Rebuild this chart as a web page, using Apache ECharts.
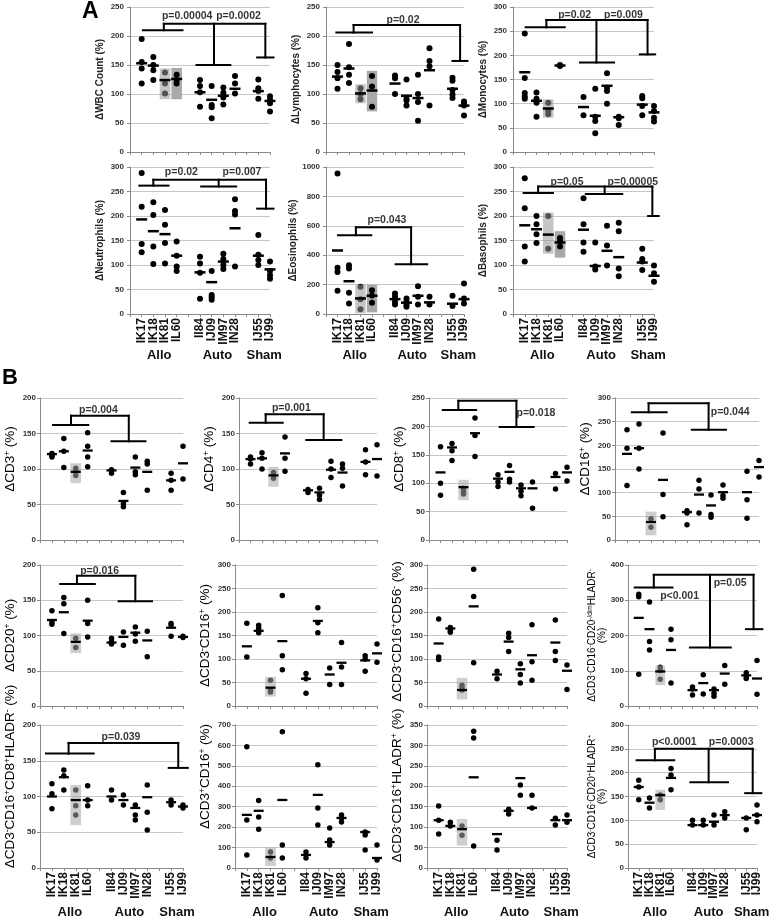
<!DOCTYPE html>
<html><head><meta charset="utf-8">
<script src="https://cdn.jsdelivr.net/npm/echarts@6/dist/echarts.min.js"></script>
<style>html,body{margin:0;padding:0;background:#fff}#c{width:779px;height:922px}</style>
</head><body><div id="c"></div>
<script>
// ---------- categories ----------
const categories = ['', 'IK17', 'IK18', 'IK81', 'IL60', '', 'II84', 'IJ09', 'IM97', 'IN28', '', 'IJ55', 'IJ99'];
const animals = ['IK17', 'IK18', 'IK81', 'IL60', 'II84', 'IJ09', 'IM97', 'IN28', 'IJ55', 'IJ99'];
const groupNames = ['Allo', 'Auto', 'Sham'];
const groupMembers = [['IK17', 'IK18', 'IK81', 'IL60'], ['II84', 'IJ09', 'IM97', 'IN28'], ['IJ55', 'IJ99']];

// ---------- Panel A ----------
const wbcDots = [[195,155,144,118],[164,150,141,124],[137,118,101],[133,124,118],[124,114,103,78],[114,81,77,58],[111,102,94,82],[131,118,101],[125,110,105,92],[96,90,84,70]];
const wbcMeans = [153,149,124,126,103,90,97,109,105,88];
const wbcLight = [['IK81', 91, 144]];
const wbcDark = [['IL60', 91, 145]];
const wbcBrackets = [[1.1,4.5,210,2.9],[5.7,8.6,150,7.2],[10.9,12.3,163,11.6]];
const wbcTop = 221;
const wbcP = [[4.9,234,'p=0.00004'],[9.3,234,'p=0.0002']];

const lymDots = [[150,138,127,109],[186,146,133,119],[110,100,91],[131,113,78],[132,127,100],[125,92,89,80],[133,100,86,54],[179,157,148,80],[128,123,107,99,93],[87,83,80,63]];
const lymMeans = [130,144,101,106,118,97,93,141,109,80];
const lymLight = [['IK81', 84, 117]];
const lymDark = [['IL60', 70, 140]];
const lymBrackets = [[0.9,4.0,206,2.4],[11.0,12.3,157,11.66]];
const lymTop = 219;
const lymP = [[6.7,228,'p=0.02']];

const monDots = [[245,153,122,115,110],[123,110,102,73],[102,85,78],[180,178],[114,76],[131,73,64,39],[163,133,126,100],[73,70,56],[116,111,95,76],[95,85,71,63]];
const monMeans = [165,106,90,179,93,75,137,72,98,82];
const monLight = [['IK81', 71, 109]];
const monDark = [];
const monBrackets = [[1.08,4.4,258,2.84],[5.7,8.6,185,7.1],[10.8,12.1,202,11.45]];
const monTop = 273;
const monP = [[5.25,284,'p=0.02'],[9.4,284,'p=0.009']];

const neuDots = [[288,219,143,126],[228,202,138,102],[212,182,145,103],[148,119,97,88],[117,103,84,31],[88,39,34,29],[123,112,100,92],[234,210,203,97],[161,121,110,100],[107,88,79,72]];
const neuMeans = [193,169,163,119,85,65,107,175,119,91];
const neuLight = [];
const neuDark = [];
const neuBrackets = [[0.8,3.3,262,2.0],[6.1,9.1,260,7.6],[10.9,12.3,215,11.66]];
const neuTop = 274;
const neuP = [[4.4,290,'p=0.02'],[9.6,290,'p=0.007']];

const eosDots = [[955,315,286,158],[331,309,144,72],[185,101,32],[162,126,77],[140,117,83,65],[106,83,61,50],[189,117,65],[117,65],[124,54],[207,106,72]];
const eosMeans = [432,223,106,124,101,77,124,79,70,101];
const eosLight = [['IK81', 5, 200]];
const eosDark = [['IL60', 11, 200]];
const eosBrackets = [[1.04,3.94,536,2.6],[6.05,8.8,338,7.4]];
const eosTop = 590;
const eosP = [[5.3,640,'p=0.043']];

const basDots = [[277,216,138,107],[200,183,163,145],[200,133],[155,149,138],[236,183,146,127],[146,97,91],[180,140,99],[186,169,93,77],[133,112,107,90],[99,83,66]];
const basMeans = [181,173,162,146,172,98,129,116,105,78];
const basLight = [['IK81', 123, 207]];
const basDark = [['IL60', 115, 169]];
const basBrackets = [[0.9,3.4,247,2.14],[6.2,9.3,245,7.8],[11.5,12.4,200,11.86]];
const basTop = 260;
const basP = [[4.6,270,'p=0.05'],[10.2,270,'p=0.00005']];

// ---------- Panel B ----------
const cd3Dots = [[122,119,117],[143,125,102],[101,96,91],[151,132,117,103],[99,94],[67,51,47],[117,96,92],[111,107,70],[94,84,70],[132,86]];
const cd3Means = [121,125,96,126,98,55,102,96,84,108];
const cd3Light = [['IK81', 80, 108]];
const cd3Brackets = [[1.1,4.05,162,2.6],[6.0,8.85,139,7.45]];
const cd3Top = 175;
const cd3P = [[4.9,183,'p=0.004']];

const cd4Dots = [[117,114,107],[123,115,100],[95,90,87],[145,115,97],[71,67],[73,63,57],[111,100,88],[107,101,76],[127,110,92],[134,90]];
const cd4Means = [114,115,91,122,70,67,99,95,110,114];
const cd4Light = [['IK81', 75, 103]];
const cd4Brackets = [[0.93,3.8,165,2.32],[5.85,8.9,141,7.36]];
const cd4Top = 177;
const cd4P = [[4.55,186,'p=0.001']];

const cd8Dots = [[164,100,79],[170,157,140],[91,86,81],[215,184,147],[115,102,94],[131,107,102],[97,86,78],[102,56],[117,90],[128,104]];
const cd8Means = [119,163,93,188,108,120,91,91,111,119];
const cd8Light = [['IK81', 70, 106]];
const cd8Brackets = [[1.2,4.1,229,2.55],[6.15,9.1,199,7.6]];
const cd8Top = 245;
const cd8P = [[9.3,224,'p=0.018']];

const cd16Dots = [[233,194,115],[245,194,150],[45,27],[226,96,49],[62,57,32],[126,108,57],[95,54,48],[116,94,88],[145,85,46],[168,133]];
const cd16Means = [182,194,38,127,59,96,73,101,101,154];
const cd16Light = [['IK81', 10, 60]];
const cd16Brackets = [[1.4,4.3,270,2.8],[6.4,9.25,233,7.8]];
const cd16Top = 289;
const cd16P = [[9.6,270,'p=0.044']];

const cd20Dots = [[135,119,116],[154,145,103],[96,83],[150,117,98],[96,91,88],[105,86],[112,102,92],[106,70],[117,115,99],[99,97]];
const cd20Means = [122,133,91,121,90,98,104,93,111,98];
const cd20Light = [['IK81', 75, 103]];
const cd20Brackets = [[1.7,4.6,173,3.1],[6.6,9.4,148.6,8.0]];
const cd20Top = 184.6;
const cd20P = [[5.0,192,'p=0.016']];

const nkDots = [[176,104],[172,165,156],[55,34,30],[235,107,77],[69,58,27],[209,177,156],[81,46],[135,83,46],[107,100,74],[132,93]];
const nkMeans = [127,160,39,138,58,181,67,92,97,112];
const nkLight = [['IK81', 20, 62]];

const cd56Dots = [[185,104,99],[167,160,157],[44,39,34],[291,233,92],[74,58],[155,146,116],[90,67,49],[173,94,55],[183,116,97],[87,35]];
const cd56Means = [133,165,34,212,67,137,78,108,135,75];
const cd56Light = [['IK81', 14, 60]];

const dimDots = [[317,310,90],[295,183,159],[110,101,76],[218,188,65],[54,48,31],[89,34],[48,36,28],[115,62],[94,85,78],[129,33]];
const dimMeans = [250,218,98,159,45,65,45,92,87,78];
const dimLight = [['IK81', 59, 115]];
const dimBrackets = [[0.62,4.14,336,2.4],[5.76,9.56,166,7.63],[10.97,12.5,218,11.68]];
const dimTop = 372;
const dimP = [[4.8,313,'p<0.001'],[9.5,348,'p=0.05']];

const cd8hDots = [[118,104,83],[137,129,109],[109,87,74],[115,95,87],[109,95],[102,88],[88,74,67],[116,78,53],[95,88],[88,84]];
const cd8hMeans = [100,127,95,95,100,95,84,99,92,86];
const cd8hLight = [['IK81', 60, 116]];
const cd8hBrackets = [[0.5,4.5,160,2.4],[10.8,12.4,140,11.6]];
const cd8hTop = 175;
const cd8hP = [[6.8,183,'p=0.039']];

const tnkDots = [[593,235,64],[330,250,190],[78,49],[667,113,49],[78,49],[505,294,210],[196,137,113],[260,245,225],[176,162,88],[113,39]];
const tnkMeans = [260,280,54,333,64,358,127,245,176,49];
const tnkLight = [['IK81', 10, 100]];

const hlaDots = [[152,117,83],[112,103],[103,80],[335,318,54],[68,44],[144,132],[203,178],[178,147],[122,105],[130,112]];
const hlaMeans = [117,103,95,222,83,140,220,147,117,117];
const hlaLight = [['IK81', 55, 120]];

const bhlaDots = [[184,170,143],[147,126],[153,143],[209,195,164],[100,90],[100,90],[111,90],[118,105],[105,80],[132,111,97]];
const bhlaMeans = [170,137,153,189,90,90,97,111,105,111];
const bhlaLight = [['IK81', 122, 164]];
const bhlaBrackets = [[0.8,4.3,226,2.5],[5.8,9.3,180,7.5],[10.9,12.4,157,11.6]];
const bhlaTop = 250;
const bhlaP = [[4.3,265,'p<0.0001'],[9.6,265,'p=0.0003']];

// ---------- layout ----------
const FONT = '"Liberation Sans", Arial, sans-serif';
const AX = '#8a8a8a', GRIDC = '#c6c6c6';
const panels = [
  {dots:wbcDots, means:wbcMeans, light:wbcLight, dark:wbcDark, br:wbcBrackets, top:wbcTop, p:wbcP, rect:[130,7,140,145], ymax:250, step:50, name:'ΔWBC Count (%)', kind:'A', xlab:false, shift:0},
  {dots:lymDots, means:lymMeans, light:lymLight, dark:lymDark, br:lymBrackets, top:lymTop, p:lymP, rect:[326,7,138,145], ymax:250, step:50, name:'ΔLymphocytes (%)', kind:'A', xlab:false, shift:0},
  {dots:monDots, means:monMeans, light:monLight, dark:monDark, br:monBrackets, top:monTop, p:monP, rect:[513,7,141,145], ymax:300, step:50, name:'ΔMonocytes (%)', kind:'A', xlab:false, shift:0},
  {dots:neuDots, means:neuMeans, light:neuLight, dark:neuDark, br:neuBrackets, top:neuTop, p:neuP, rect:[130,167,140,147], ymax:300, step:50, name:'ΔNeutrophils (%)', kind:'A', xlab:true, shift:0},
  {dots:eosDots, means:eosMeans, light:eosLight, dark:eosDark, br:eosBrackets, top:eosTop, p:eosP, rect:[326,167,138,147], ymax:1000, step:200, name:'ΔEosinophils (%)', kind:'A', xlab:true, shift:0},
  {dots:basDots, means:basMeans, light:basLight, dark:basDark, br:basBrackets, top:basTop, p:basP, rect:[513,167,141,147], ymax:300, step:50, name:'ΔBasophils (%)', kind:'A', xlab:true, shift:0},

  {dots:cd3Dots, means:cd3Means, light:cd3Light, dark:[], br:cd3Brackets, top:cd3Top, p:cd3P, rect:[40,398,143,142], ymax:200, step:50, name:'ΔCD3{s|+} (%)', kind:'B', xlab:false, shift:20},
  {dots:cd4Dots, means:cd4Means, light:cd4Light, dark:[], br:cd4Brackets, top:cd4Top, p:cd4P, rect:[239,398,138,142], ymax:200, step:50, name:'ΔCD4{s|+} (%)', kind:'B', xlab:false, shift:20},
  {dots:cd8Dots, means:cd8Means, light:cd8Light, dark:[], br:cd8Brackets, top:cd8Top, p:cd8P, rect:[429,398,138,142], ymax:250, step:50, name:'ΔCD8{s|+} (%)', kind:'B', xlab:false, shift:20},
  {dots:cd16Dots, means:cd16Means, light:cd16Light, dark:[], br:cd16Brackets, top:cd16Top, p:cd16P, rect:[615,398,144,142], ymax:300, step:50, name:'ΔCD16{s|+} (%)', kind:'B', xlab:false, shift:20},

  {dots:cd20Dots, means:cd20Means, light:cd20Light, dark:[], br:cd20Brackets, top:cd20Top, p:cd20P, rect:[40,565,143,141], ymax:200, step:50, name:'ΔCD20{s|+} (%)', kind:'B', xlab:false, shift:0},
  {dots:nkDots, means:nkMeans, light:nkLight, dark:[], br:[], top:null, p:[], rect:[235,565,142,141], ymax:300, step:50, name:'ΔCD3{s|-}CD16{s|+} (%)', kind:'B', xlab:false, shift:0},
  {dots:cd56Dots, means:cd56Means, light:cd56Light, dark:[], br:[], top:null, p:[], rect:[427,565,140,141], ymax:300, step:50, name:'ΔCD3{s|-}CD16{s|+}CD56{s|-} (%)', kind:'B', xlab:false, shift:8},
  {dots:dimDots, means:dimMeans, light:dimLight, dark:[], br:dimBrackets, top:dimTop, p:dimP, rect:[628,565,129,141], ymax:400, step:100, name:'ΔCD3{t|-}CD16{t|-}CD20{t|-/dim}HLADR{t|-}\n(%)', kind:'B2', xlab:false, shift:0},

  {dots:cd8hDots, means:cd8hMeans, light:cd8hLight, dark:[], br:cd8hBrackets, top:cd8hTop, p:cd8hP, rect:[40,725,143,143], ymax:200, step:50, name:'ΔCD3{s|-}CD16{s|+}CD8{s|+}HLADR{s|-} (%)', kind:'B', xlab:true, shift:40},
  {dots:tnkDots, means:tnkMeans, light:tnkLight, dark:[], br:[], top:null, p:[], rect:[235,725,142,143], ymax:700, step:100, name:'ΔCD3{s|+}CD16{s|+} (%)', kind:'B', xlab:true, shift:40},
  {dots:hlaDots, means:hlaMeans, light:hlaLight, dark:[], br:[], top:null, p:[], rect:[427,725,140,143], ymax:350, step:50, name:'ΔCD3{s|-}CD16{s|+}HLADR{s|+} (%)', kind:'B', xlab:true, shift:22},
  {dots:bhlaDots, means:bhlaMeans, light:bhlaLight, dark:[], br:bhlaBrackets, top:bhlaTop, p:bhlaP, rect:[628,725,129,143], ymax:300, step:50, name:'ΔCD3{t|-}CD16{t|-}CD20{t|+}HLADR{t|+}\n(%)', kind:'B2', xlab:true, shift:0}
];

const slot = name => categories.indexOf(name);
const groupCenters = groupMembers.map(m => m.reduce((a, n) => a + slot(n), 0) / m.length);
function groupLabelAt(v) {
  for (let i = 0; i < groupCenters.length; i++) if (Math.abs(groupCenters[i] - v) < 1e-6) return groupNames[i];
  return '';
}

function boxRender(fill) {
  return function (params, api) {
    const x = api.value(0), lo = api.value(1), hi = api.value(2);
    const a = api.coord([x - 0.45, hi]), b = api.coord([x + 0.45, lo]);
    return {type: 'rect', shape: {x: a[0], y: a[1], width: b[0] - a[0], height: b[1] - a[1]}, style: {fill: fill}};
  };
}
function segRender(params, api) {
  const a = api.coord([api.value(0), api.value(1)]), b = api.coord([api.value(2), api.value(3)]);
  return {type: 'line', shape: {x1: a[0], y1: a[1], x2: b[0], y2: b[1]}, style: {stroke: '#000', lineWidth: 2, lineCap: 'square'}};
}

const grids = [], xAxes = [], yAxes = [], series = [];
panels.forEach((p, i) => {
  const isA = p.kind === 'A';
  grids.push({left: p.rect[0], top: p.rect[1], width: p.rect[2], height: p.rect[3], outerBoundsMode: 'none', containLabel: false});
  const xi = xAxes.length;
  xAxes.push({
    gridIndex: i, type: 'value', min: 0, max: 12, interval: 1,
    axisLine: {show: true, onZero: false, lineStyle: {color: AX, width: 1}},
    axisTick: {show: true, length: 3, inside: false, lineStyle: {color: AX}},
    splitLine: {show: false},
    axisLabel: {show: false}
  });
  if (p.xlab) {
    // category labels (rotated) on a category axis so every label is kept
    xAxes.push({
      gridIndex: i, type: 'category', data: categories, boundaryGap: false, position: 'bottom',
      axisLine: {show: false}, axisTick: {show: false}, splitLine: {show: false},
      axisLabel: {show: true, interval: 0, rotate: 90, margin: 4,
        fontFamily: FONT, fontWeight: 'bold', fontSize: 12, color: '#111'}
    });
    xAxes.push({
      gridIndex: i, type: 'value', min: 0, max: 12, interval: 0.5, position: 'bottom', offset: isA ? 27 : 30,
      axisLine: {show: false}, axisTick: {show: false}, splitLine: {show: false},
      axisLabel: {show: true, margin: 8, showMinLabel: true, showMaxLabel: true, hideOverlap: false,
        fontFamily: FONT, fontWeight: 'bold', fontSize: 13, color: '#111',
        formatter: v => groupLabelAt(v)}
    });
  }
  let nameStyle, gap;
  if (isA) { nameStyle = {fontFamily: FONT, fontSize: 10, fontWeight: 'bold', color: '#222'}; gap = 25; }
  else if (p.kind === 'B') { nameStyle = {fontFamily: FONT, fontSize: 13.5, color: '#000', lineHeight: 16,
    padding: [0, 0, 0, p.shift],
    rich: {s: {fontFamily: FONT, fontSize: 8.5, verticalAlign: 'top', lineHeight: 16, color: '#000'}}}; gap = 10; }
  else { nameStyle = {fontFamily: FONT, fontSize: 10, color: '#000', lineHeight: 10,
    rich: {t: {fontFamily: FONT, fontSize: 6.5, verticalAlign: 'top', lineHeight: 10, color: '#000'}}}; gap = 15; }
  yAxes.push({
    gridIndex: i, type: 'value', min: 0, max: p.ymax, interval: p.step,
    name: p.name, nameLocation: 'middle', nameGap: gap, nameTextStyle: nameStyle,
    axisLine: {show: true, lineStyle: {color: AX, width: 1}},
    axisTick: {show: true, length: 3, lineStyle: {color: AX}},
    splitLine: {show: true, lineStyle: {color: GRIDC, width: 1}},
    axisLabel: {fontFamily: FONT, fontWeight: 'bold', fontSize: 8, color: '#333', margin: isA ? 6 : 4, formatter: v => String(v)}
  });

  const dotData = [];
  p.dots.forEach((vals, k) => vals.forEach(v => dotData.push([slot(animals[k]), v])));
  const meanData = p.means.map((v, k) => [slot(animals[k]), v]);
  const lightData = p.light.map(b => [slot(b[0]), b[1], b[2]]);
  const darkData = p.dark.map(b => [slot(b[0]), b[1], b[2]]);
  const segs = [];
  p.br.forEach(b => { segs.push([b[0], b[2], b[1], b[2]]); segs.push([b[3], b[2], b[3], p.top]); });
  if (p.br.length > 1) segs.push([p.br[0][3], p.top, p.br[p.br.length - 1][3], p.top]);
  const pData = p.p.map(t => ({name: t[2], value: [t[0], t[1]]}));
  const common = {xAxisIndex: xi, yAxisIndex: i, silent: true, animation: false};

  series.push(Object.assign({type: 'custom', data: darkData, z: 1, renderItem: boxRender('#a9a9a9'), clip: false}, common));
  series.push(Object.assign({type: 'scatter', data: dotData, symbol: 'circle', symbolSize: isA ? 6 : 5.5, itemStyle: {color: '#000', opacity: 1}, z: 2}, common));
  series.push(Object.assign({type: 'custom', data: lightData, z: 3, renderItem: boxRender(isA ? 'rgba(150,150,150,0.55)' : 'rgba(165,165,165,0.55)'), clip: false}, common));
  series.push(Object.assign({type: 'scatter', data: meanData, symbol: 'rect', symbolSize: isA ? [11, 2.5] : [10, 2.3], itemStyle: {color: '#000', opacity: 1}, z: 4}, common));
  series.push(Object.assign({type: 'custom', data: segs, z: 5, renderItem: segRender, clip: false}, common));
  series.push(Object.assign({type: 'scatter', data: pData, symbolSize: 1, itemStyle: {color: 'rgba(0,0,0,0)'}, z: 6,
    label: {show: true, position: 'inside', formatter: '{b}', fontFamily: FONT, fontWeight: 'bold', fontSize: 10.5, color: '#000'}}, common));
});

const chart = echarts.init(document.getElementById('c'), null, {renderer: 'canvas'});
chart.setOption({
  animation: false,
  backgroundColor: '#fff',
  grid: grids, xAxis: xAxes, yAxis: yAxes, series: series,
  graphic: [
    {type: 'text', left: 82, top: 0, style: {text: 'A', font: 'bold 23px ' + FONT, fill: '#000'}},
    {type: 'text', left: 2, top: 367, style: {text: 'B', font: 'bold 22px ' + FONT, fill: '#000'}}
  ]
});
</script>
</body></html>
